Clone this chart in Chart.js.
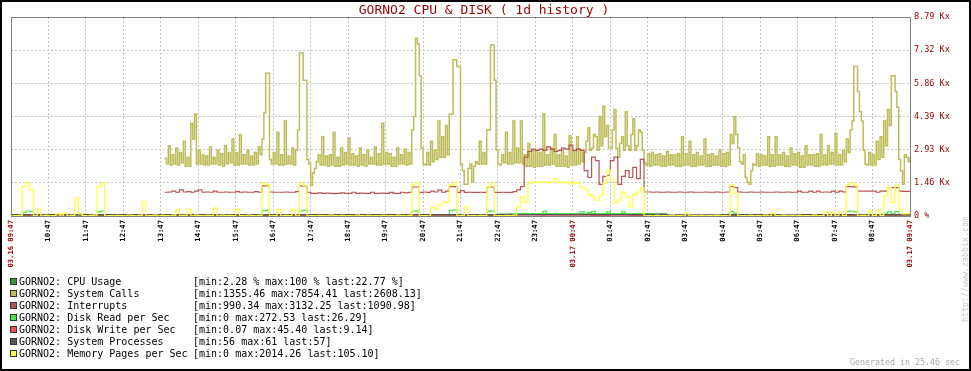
<!DOCTYPE html>
<html>
<head>
<meta charset="utf-8">
<script src="https://cdn.jsdelivr.net/npm/chart.js@4.4.1/dist/chart.umd.min.js"></script>
<style>
  html, body { margin: 0; padding: 0; background: #fff; }
  canvas { display: block; }
</style>
</head>
<body>
<canvas id="zbxGraph" width="971" height="371"></canvas>
<script>
// tiempo en minutos desde 03.16 09:47
const CALLS_STEP = 3;
const FINE_STEP = 6;
const COARSE_STEP = 30;

const xTickLabels = ['03.16 09:47', '10:47', '11:47', '12:47', '13:47', '14:47', '15:47', '16:47', '17:47',
  '18:47', '19:47', '20:47', '21:47', '22:47', '23:47', '03.17 00:47', '01:47', '02:47', '03:47', '04:47',
  '05:47', '06:47', '07:47', '08:47', '03.17 09:47'];
const yTickValues = [0, 1465, 2930, 4395, 5860, 7325, 8790];
const yTickLabels = ['0 %', '1.46 Kx', '2.93 Kx', '4.39 Kx', '5.86 Kx', '7.32 Kx', '8.79 Kx'];

const seriesNames = ['GORNO2: CPU Usage', 'GORNO2: System Calls', 'GORNO2: Interrupts', 'GORNO2: Disk Read per Sec',
  'GORNO2: Disk Write per Sec', 'GORNO2: System Processes', 'GORNO2: Memory Pages per Sec'];
const seriesStats = ['[min:2.28 % max:100 % last:22.77 %]', '[min:1355.46 max:7854.41 last:2608.13]',
  '[min:990.34 max:3132.25 last:1090.98]', '[min:0 max:272.53 last:26.29]', '[min:0.07 max:45.40 last:9.14]',
  '[min:56 max:61 last:57]', '[min:0 max:2014.26 last:105.10]'];
const seriesColors = ['#339933', '#BDBD5A', '#B75555', '#4CE64C', '#EE5555', '#555555', '#FFFF44'];
const seriesWidths = [1.2, 1.5, 1.2, 1.2, 1.2, 1.2, 1.3];

// cada 30 min
const cpuUsage = [25, 60, 20, 15, 20, 60, 15, 20, 20, 25, 20, 30, 25, 30, 60, 25, 60, 20, 20, 20, 25, 60, 25, 30, 60,
  30, 85, 100, 95, 100, 100, 95, 100, 100, 90, 25, 20, 2.28, 20, 60, 20, 20, 20, 20, 20, 60, 20, 20, 22.77];
const diskWrite = [3, 8, 2, 1, 2, 10, 1, 2, 1, 3, 2, 5, 3, 4, 10, 3, 8, 2, 2, 2, 3, 9, 3, 4, 12,
  8, 30, 45.4, 40, 35, 38, 30, 33, 28, 10, 3, 2, 0.07, 2, 6, 2, 1, 2, 2, 2, 8, 3, 4, 9.14];
const sysProcesses = [57, 57, 58, 57, 57, 58, 57, 57, 57, 58, 59, 58, 57, 57, 58, 57, 58, 57, 57, 57, 58, 57, 58, 57, 58,
  59, 60, 61, 60, 59, 60, 60, 59, 58, 57, 56, 56, 56, 57, 57, 57, 56, 57, 57, 57, 57, 58, 57, 57];

// cada 3 min, empieza en el paso 82 (~13:53)
const CALLS_START = 82;
const sysCalls = [
  2550, 2300, 3100, 2250, 2700, 2300, 3000, 2250, 2800, 2350, 3300, 2200, 2600, 2200, 4100, 3400, 4500, 2300,
  2900, 2300, 2700, 2250, 2650, 2250, 3050, 2300, 2600, 2300, 2900, 2250, 2750, 2200, 3100, 2300, 2800, 2350, 3400, 2250,
  2800, 2250, 3600, 2300, 2700, 2300, 2900, 2250, 2650, 2250, 2800, 2300, 3050, 2700, 3400, 4550, 6300, 6300, 2500, 2300,
  2800, 2300, 3700, 2250, 2700, 2250, 4200, 2300, 2650, 2300, 3000, 2250, 2900, 3800, 7200, 7200, 6000, 6000, 2500, 2300,
  1355.46, 1900, 2100, 2400, 2700, 2250, 3500, 2250, 2650, 2200, 2700, 2250, 3700, 2200, 2600, 2200, 3000, 2250, 2800, 2300,
  3450, 2250, 2750, 2250, 2650, 2200, 3000, 2250, 2700, 2200, 2900, 2300, 2600, 2300, 3050, 2250, 2750, 2250, 4100, 2300,
  2800, 2300, 2750, 2200, 2600, 2200, 3000, 2300, 2700, 2300, 2950, 2250, 2800, 2300, 3800, 4400, 7854.41, 7600, 6200, 3000,
  2300, 2250, 2800, 2250, 3300, 2400, 2900, 2500, 4200, 2600, 3500, 2600, 4000, 2700, 4500, 4500, 6900, 6900, 6600, 6600,
  2300, 2000, 1400, 1400, 2100, 2300, 1500, 2200, 2400, 2300, 3300, 2300, 2800, 2300, 3800, 3800, 7550, 7550, 6000, 2900,
  2300, 2250, 2700, 2350, 3700, 2300, 2800, 2300, 4200, 2350, 3000, 2350, 4200, 2300, 2700, 2200, 3200, 2200, 2900, 2150,
  2900, 2200, 2800, 2200, 4500, 2250, 2700, 2250, 3000, 2300, 3600, 2200, 2700, 2200, 2900, 2200, 2650, 2150, 3550, 2250,
  2850, 2250, 3500, 2300, 2900, 2400, 2800, 3300, 3900, 2900, 3000, 3600, 3500, 2900, 4400, 3100, 4850, 3500, 4000, 3000,
  3000, 3800, 4700, 3000, 2600, 3200, 3500, 2900, 4600, 3100, 2900, 3600, 4300, 2900, 3100, 3800, 3700, 2900, 2350, 2250,
  2750, 2200, 2800, 2250, 2700, 2250, 2750, 2200, 2650, 2200, 2850, 2250, 2700, 2250, 2700, 2200, 2750, 2200, 3500, 2250,
  2750, 2250, 3300, 2200, 2700, 2200, 2800, 2250, 2650, 2250, 3400, 2200, 2700, 2200, 2750, 2250, 2650, 2250, 2900, 2200,
  2750, 2200, 2800, 2250, 3600, 3200, 4400, 3600, 3000, 2400, 2300, 2700, 1700, 1500, 1400, 2000, 2300, 2250, 2750, 2200,
  2700, 2250, 2650, 2250, 3500, 2200, 2700, 2200, 3500, 2250, 2700, 2250, 2800, 2200, 2650, 2200, 3000, 2250, 2750, 2250,
  2800, 2150, 2650, 2150, 3100, 2250, 2700, 2250, 2700, 2200, 2750, 2200, 3600, 2250, 2700, 2250, 3100, 2300, 2800, 2300,
  3650, 2250, 2700, 2250, 2900, 2400, 3400, 2800, 3800, 4200, 6600, 6600, 5500, 4600, 4200, 2900, 2300, 2250, 2800, 2250,
  2700, 2250, 3300, 2500, 3500, 2600, 4200, 3100, 4700, 4000, 6200, 6200, 5500, 4800, 2500, 2000, 1400, 2700, 2600, 2400,
  2608.13
];
// cada 6 min, empieza en el paso 41
const INTR_START = 41;
const interrupts = [
  1050, 1060, 1100, 1050, 1150, 1060, 1080, 1050, 1100, 1160,
  1050, 1060, 1050, 1100, 1050, 1050, 1060, 1050, 1050, 1080,
  1050, 1060, 1050, 1050, 1080, 1050, 1330, 1340, 1060, 1050,
  1050, 1050, 1060, 1050, 1050, 1080, 1330, 1330, 1050, 1000,
  1000, 1020, 1000, 1010, 1000, 990.34, 1000, 1020, 1000, 1000,
  1050, 1000, 1010, 1000, 1000, 1050, 1000, 1000, 1010, 1000,
  1040, 1000, 1000, 1050, 1020, 1040, 1280, 1280, 1040, 1060,
  1040, 1100, 1060, 1150, 1050, 1100, 1300, 1300, 1040, 1120,
  1040, 1050, 1040, 1040, 1050, 1040, 1280, 1280, 1040, 1040,
  1050, 1040, 1040, 1080, 1150, 1300, 2600, 2850, 2950, 2900,
  2950, 2900, 3050, 2950, 2850, 2900, 3000, 2950, 3132.25, 2900,
  2950, 2900, 2000, 1700, 2600, 2450, 1400, 1750, 1800, 2450,
  2600, 1400, 1750, 2000, 1700, 2150, 1650, 2500, 1060, 1060,
  1050, 1060, 1050, 1050, 1060, 1050, 1050, 1060, 1050, 1050,
  1060, 1050, 1050, 1050, 1060, 1050, 1050, 1060, 1050, 1050,
  1060, 1300, 1250, 1060, 1050, 1050, 1060, 1050, 1050, 1060,
  1050, 1050, 1050, 1060, 1050, 1050, 1060, 1050, 1050, 1100,
  1050, 1050, 1100, 1050, 1100, 1050, 1060, 1050, 1100, 1050,
  1100, 1060, 1300, 1300, 1280, 1100, 1100, 1100, 1100, 1100,
  1050, 1100, 1100, 1250, 1250, 1250, 1100, 1090, 1090, 1090.98
];
// cada 6 min desde 09:47
const diskRead = [
  0, 0, 5, 150, 220, 200, 0, 10, 0, 0,
  0, 0, 10, 0, 20, 0, 0, 30, 0, 0,
  0, 0, 0, 180, 220, 0, 0, 0, 0, 0,
  0, 0, 0, 0, 0, 30, 0, 0, 0, 0,
  0, 0, 0, 0, 10, 0, 0, 10, 0, 0,
  0, 0, 0, 0, 10, 0, 0, 0, 0, 0,
  10, 0, 0, 0, 0, 0, 0, 240, 250, 0,
  0, 0, 0, 0, 0, 10, 0, 230, 250, 0,
  0, 0, 0, 0, 0, 0, 0, 0, 0, 0,
  0, 0, 0, 0, 0, 0, 0, 0, 0, 0,
  0, 0, 0, 0, 0, 0, 0, 220, 230, 0,
  0, 0, 20, 30, 40, 30, 60, 240, 272.53, 0,
  0, 10, 0, 0, 0, 0, 0, 200, 230, 0,
  0, 0, 60, 80, 70, 90, 100, 120, 110, 100,
  110, 100, 200, 110, 100, 120, 110, 100, 110, 100,
  100, 110, 190, 120, 150, 200, 110, 100, 120, 190,
  110, 100, 110, 190, 100, 110, 100, 120, 110, 0,
  0, 0, 0, 0, 0, 0, 0, 0, 0, 0,
  10, 0, 0, 0, 0, 0, 0, 0, 0, 0,
  0, 0, 200, 120, 0, 0, 0, 0, 0, 0,
  0, 0, 0, 0, 0, 0, 0, 0, 0, 0,
  0, 0, 0, 0, 0, 0, 0, 0, 0, 0,
  0, 0, 0, 200, 220, 180, 0, 0, 0, 0,
  0, 0, 0, 90, 180, 100, 200, 60, 30, 26.29,
  26.29
];
const memPages = [
  0, 20, 30, 1300, 1460, 1150, 0, 300, 0, 30,
  0, 20, 100, 40, 150, 0, 30, 800, 100, 20,
  0, 30, 40, 1300, 1460, 0, 20, 0, 30, 10,
  0, 40, 20, 0, 30, 620, 0, 20, 40, 0,
  30, 20, 0, 40, 300, 20, 30, 300, 0, 40,
  20, 0, 30, 20, 350, 0, 40, 20, 30, 0,
  300, 20, 0, 40, 20, 0, 30, 1460, 1380, 0,
  20, 300, 0, 30, 20, 300, 0, 1460, 1350, 0,
  20, 0, 30, 20, 0, 40, 20, 0, 30, 0,
  20, 0, 40, 20, 0, 30, 0, 20, 0, 30,
  0, 20, 0, 40, 20, 0, 30, 1400, 1460, 0,
  20, 0, 400, 300, 490, 620, 600, 1380, 1500, 0,
  30, 400, 0, 20, 0, 30, 20, 1300, 1460, 0,
  20, 0, 30, 20, 40, 400, 840, 600, 1450, 1480,
  1500, 1470, 1520, 1480, 1500, 1650, 1480, 1500, 1460, 1420,
  1480, 1450, 1250, 1200, 950, 850, 700, 900, 1450, 2014.26,
  1600, 570, 700, 1050, 850, 400, 950, 1050, 1250, 0,
  20, 0, 30, 0, 20, 0, 40, 0, 20, 0,
  130, 0, 20, 0, 30, 0, 20, 0, 30, 0,
  20, 0, 1370, 1000, 0, 20, 0, 30, 0, 20,
  0, 40, 0, 130, 20, 0, 30, 0, 20, 0,
  30, 0, 20, 0, 40, 0, 20, 180, 0, 150,
  0, 180, 20, 1400, 1460, 1350, 0, 30, 0, 200,
  20, 250, 30, 900, 1250, 600, 1350, 300, 100, 105.1,
  105.1
];

const RED = '#990000';
const GRID = '#C4C4C4';
const MONO = '"DejaVu Sans Mono", "Liberation Mono", monospace';

function toPoints(vals, start, step) {
  return vals.map((v, k) => ({ x: (start + k) * step, y: v }));
}

const seriesData = [
  toPoints(cpuUsage, 0, COARSE_STEP),
  toPoints(sysCalls, CALLS_START, CALLS_STEP),
  toPoints(interrupts, INTR_START, FINE_STEP),
  toPoints(diskRead, 0, FINE_STEP),
  toPoints(diskWrite, 0, COARSE_STEP),
  toPoints(sysProcesses, 0, COARSE_STEP),
  toPoints(memPages, 0, FINE_STEP)
];

const datasets = seriesData.map((pts, i) => ({
  label: seriesNames[i],
  data: pts,
  borderColor: seriesColors[i],
  backgroundColor: seriesColors[i],
  borderWidth: seriesWidths[i],
  pointRadius: 0,
  stepped: true,
  fill: false,
  order: seriesData.length - i
}));

// marco, titulo, leyenda y textos de zabbix
const zabbixDecor = {
  id: 'zabbixDecor',
  beforeDatasetsDraw(chart) {
    const { ctx, chartArea: a } = chart;
    ctx.save();
    ctx.strokeStyle = '#000';
    ctx.lineWidth = 1;
    ctx.setLineDash([1, 1]);
    ctx.beginPath();
    ctx.moveTo(a.left + 0.5, a.bottom + 0.5);
    ctx.lineTo(a.left + 0.5, a.top + 0.5);
    ctx.lineTo(a.right + 0.5, a.top + 0.5);
    ctx.lineTo(a.right + 0.5, a.bottom + 0.5);
    ctx.lineTo(a.left + 0.5, a.bottom + 0.5);
    ctx.stroke();
    ctx.restore();
  },
  afterDraw(chart) {
    const { ctx } = chart;
    const W = chart.width, H = chart.height;
    ctx.save();
    // titulo
    ctx.fillStyle = RED;
    ctx.font = '13px ' + MONO;
    ctx.textAlign = 'center';
    ctx.textBaseline = 'alphabetic';
    ctx.fillText('GORNO2 CPU & DISK ( 1d history )', 484, 14);

    // leyenda
    ctx.font = '10px ' + MONO;
    ctx.textAlign = 'left';
    seriesNames.forEach((name, i) => {
      const base = 285 + i * 12;
      ctx.fillStyle = seriesColors[i];
      ctx.fillRect(11, base - 6, 5, 5);
      ctx.strokeStyle = '#333';
      ctx.lineWidth = 1;
      ctx.strokeRect(10.5, base - 6.5, 6, 6);
      ctx.fillStyle = '#000';
      ctx.fillText(name, 19, base);
      ctx.fillText(seriesStats[i], 193, base);
    });

    // pie
    ctx.fillStyle = '#A8A8A8';
    ctx.font = '8.3px ' + MONO;
    ctx.textAlign = 'right';
    ctx.fillText('Generated in 25.46 sec', 960, 365);

    ctx.save();
    ctx.fillStyle = '#C8C8C8';
    ctx.translate(968, 322);
    ctx.rotate(-Math.PI / 2);
    ctx.textAlign = 'left';
    ctx.fillText('http://www.zabbix.com', 0, 0);
    ctx.restore();

    // borde exterior
    ctx.fillStyle = '#000';
    ctx.fillRect(0, 0, W, 2);
    ctx.fillRect(0, H - 2, W, 2);
    ctx.fillRect(0, 0, 2, H);
    ctx.fillRect(W - 2, 0, 2, H);
    ctx.restore();
  }
};

new Chart(document.getElementById('zbxGraph'), {
  type: 'line',
  data: { datasets },
  options: {
    responsive: false,
    animation: false,
    devicePixelRatio: 1,
    layout: { padding: { left: 11, top: 17, right: 0, bottom: 0 } },
    plugins: {
      legend: { display: false },
      title: { display: false },
      tooltip: { enabled: false }
    },
    scales: {
      x: {
        type: 'linear',
        min: 0,
        max: 1440,
        afterBuildTicks: (scale) => {
          scale.ticks = xTickLabels.map((_, k) => ({ value: k * 60 }));
        },
        afterFit: (scale) => { scale.height = 155; },
        border: { display: false, dash: [2, 2] },
        grid: {
          drawTicks: false,
          color: (c) => (c.index === 0 || c.index === xTickLabels.length - 1) ? 'rgba(0,0,0,0)' : GRID
        },
        ticks: {
          autoSkip: false,
          minRotation: 90,
          maxRotation: 90,
          padding: 4,
          font: { family: MONO, size: 7.2, weight: 'bold' },
          color: (c) => xTickLabels[c.index] && xTickLabels[c.index].includes('.') ? RED : '#000',
          callback: (v, i) => xTickLabels[i]
        }
      },
      y: {
        position: 'right',
        min: 0,
        max: 8790,
        afterBuildTicks: (scale) => {
          scale.ticks = yTickValues.map(v => ({ value: v }));
        },
        afterFit: (scale) => { scale.width = 61; },
        border: { display: false, dash: [2, 2] },
        grid: {
          drawTicks: false,
          color: (c) => (c.index === 0 || c.index === yTickValues.length - 1) ? 'rgba(0,0,0,0)' : GRID
        },
        ticks: {
          padding: 4,
          font: { family: MONO, size: 8.5 },
          color: RED,
          callback: (v, i) => yTickLabels[i]
        }
      }
    }
  },
  plugins: [zabbixDecor]
});
</script>
</body>
</html>
